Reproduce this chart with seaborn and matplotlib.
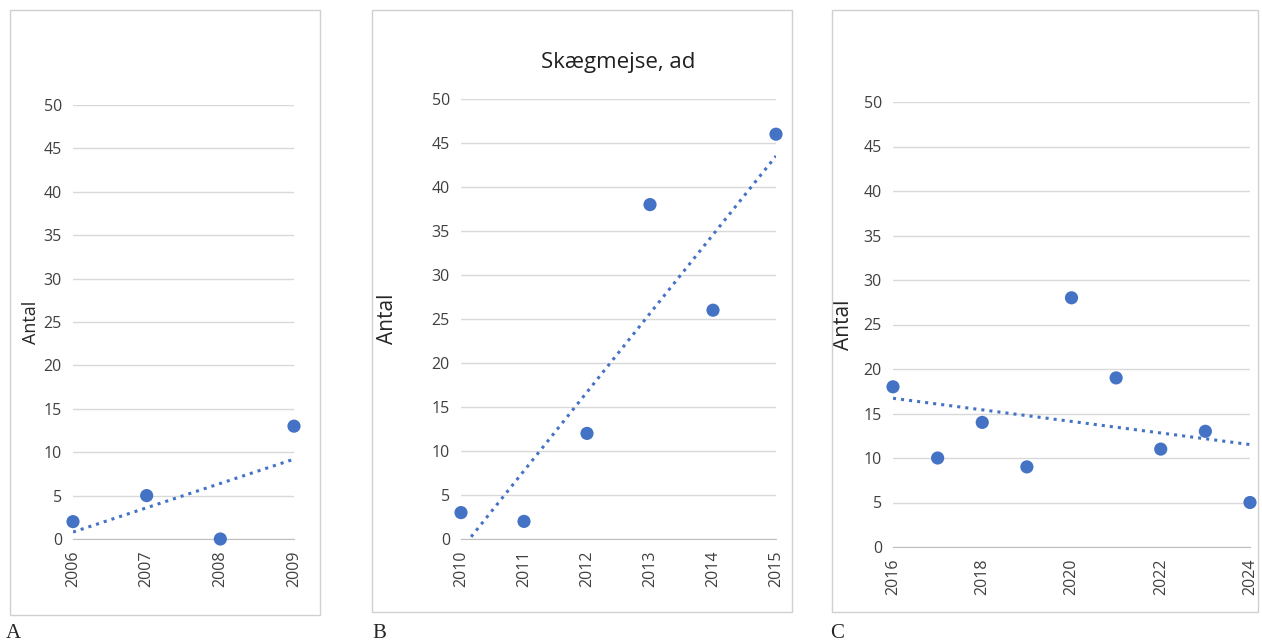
import numpy as np
import pandas as pd
import seaborn as sns
import matplotlib.pyplot as plt
from matplotlib.patches import Rectangle

sns.set_style('white')
plt.rcParams['font.family'] = ['Open Sans', 'DejaVu Sans']

years_a = [2006, 2007, 2008, 2009]
antal_a = [2, 5, 0, 13]
years_b = [2010, 2011, 2012, 2013, 2014, 2015]
antal_b = [3, 2, 12, 38, 26, 46]
years_c = [2016, 2017, 2018, 2019, 2020, 2021, 2022, 2023, 2024]
antal_c = [18, 10, 14, 9, 28, 19, 11, 13, 5]
xticks_c = [2016, 2018, 2020, 2022, 2024]

W, H = 1262, 643
fig = plt.figure(figsize=(W / 100, H / 100), dpi=100)

def px(x0, y0, x1, y1):
    return [x0 / W, 1 - y1 / H, (x1 - x0) / W, (y1 - y0) / H]

# panel frames
for x0, y0, x1, y1 in [(10, 10, 320, 615), (372, 10, 792, 612), (832, 10, 1258, 612)]:
    fig.add_artist(Rectangle((x0 / W, 1 - y1 / H), (x1 - x0) / W, (y1 - y0) / H,
                             transform=fig.transFigure, fill=False, ec='#d0d0d0', lw=1))

blue = '#4472C4'

def panel(rect, years, vals, xticks, ylab_x, fs, title=None):
    ax = fig.add_axes(px(*rect))
    df = pd.DataFrame({'year': years, 'antal': vals})
    sns.scatterplot(data=df, x='year', y='antal', ax=ax, color=blue, s=90,
                    edgecolor='none', zorder=3, clip_on=False)
    k, m = np.polyfit(years, vals, 1)
    xs = np.array([years[0], years[-1]])
    ax.plot(xs, k * xs + m, ls=':', color=blue, lw=2.2)
    ax.set_xlim(years[0], years[-1])
    ax.set_ylim(0, 50)
    ax.set_yticks(range(0, 51, 5))
    ax.set_xticks(xticks)
    ax.set_xticklabels([str(t) for t in xticks], rotation=90)
    ax.grid(axis='y', color='#d9d9d9', lw=1)
    for s in ['top', 'right', 'left']:
        ax.spines[s].set_visible(False)
    ax.spines['bottom'].set_color('#bfbfbf')
    ax.tick_params(axis='both', labelsize=11.5, length=0, colors='#404040')
    ax.tick_params(axis='x', pad=8)
    ax.tick_params(axis='y', pad=8)
    ax.set_xlabel('')
    ax.set_ylabel('Antal', fontsize=fs)
    ax.yaxis.set_label_coords(ylab_x, 0.5)
    if title:
        ax.set_title(title, fontsize=16, pad=22, color='#202020')
    return ax

panel((73, 105, 294, 539), years_a, antal_a, years_a, -0.15, 13)
panel((461, 99, 776, 539), years_b, antal_b, years_b, -0.2, 15, 'Skægmejse, ad')
panel((893, 102, 1250, 547), years_c, antal_c, xticks_c, -0.11, 15)

for lbl, x in [('A', 6), ('B', 372), ('C', 830)]:
    fig.text(x / W, 1 - 638 / H, lbl, fontsize=15, family='Liberation Serif')

fig.savefig('out.png', dpi=100)
